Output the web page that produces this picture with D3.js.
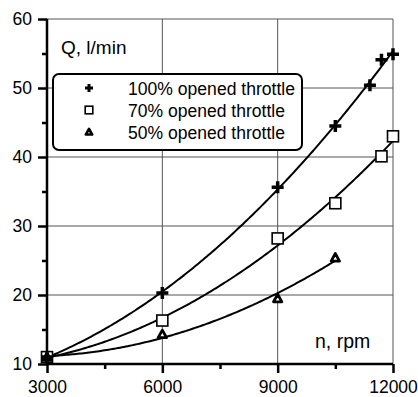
<!DOCTYPE html>
<html><head><meta charset="utf-8">
<script src="https://cdn.jsdelivr.net/npm/d3@7"></script>
<style>body{margin:0;background:#fff}svg{display:block}text{font-family:"Liberation Sans",Arial,sans-serif;fill:#000}</style>
</head><body><svg id="c" width="418" height="397"></svg>
<script>
const xTicks = [3000, 6000, 9000, 12000];
const yTicks = [10, 20, 30, 40, 50, 60];
const s100x = [3000, 6000, 9000, 10500, 11400, 11700, 12000];
const s100y = [11, 20.3, 35.6, 44.5, 50.4, 54.1, 54.9];
const s70x = [3000, 6000, 9000, 10500, 11700, 12000];
const s70y = [11, 16.3, 28.2, 33.3, 40.1, 43.0];
const s50x = [3000, 6000, 9000, 10500];
const s50y = [11, 14.3, 19.5, 25.4];
const labels = ["100% opened throttle", "70% opened throttle", "50% opened throttle"];

const svg = d3.select("#c");
const x = d3.scaleLinear().domain([3000, 12000]).range([47, 393]);
const y = d3.scaleLinear().domain([10, 60]).range([364, 19]);

// grid
const g = svg.append("g");
g.selectAll(".gx").data([6000, 9000]).join("line")
  .attr("x1", d => x(d)).attr("x2", d => x(d)).attr("y1", y(10)).attr("y2", y(60))
  .attr("stroke", "#555").attr("stroke-width", 1);
g.selectAll(".gy").data([20, 30, 40, 50]).join("line")
  .attr("y1", d => y(d)).attr("y2", d => y(d)).attr("x1", x(3000)).attr("x2", x(12000))
  .attr("stroke", "#555").attr("stroke-width", 1);
svg.append("line").attr("x1", x(3000)).attr("x2", x(12000)).attr("y1", y(60)).attr("y2", y(60)).attr("stroke", "#555");
svg.append("line").attr("x1", x(12000)).attr("x2", x(12000)).attr("y1", y(60)).attr("y2", y(10)).attr("stroke", "#555");

// axes
const xAxis = d3.axisBottom(x).tickValues(xTicks).tickSize(9).tickFormat(d3.format("d"));
const xMinor = d3.axisBottom(x).tickValues([4500, 7500, 10500]).tickSize(5).tickFormat("");
const yAxis = d3.axisLeft(y).tickValues(yTicks).tickSize(9).tickPadding(6).tickFormat(d3.format("d"));
const yMinor = d3.axisLeft(y).tickValues([15, 25, 35, 45, 55]).tickSize(5).tickFormat("");
function styleAxis(sel) {
  sel.selectAll("path").attr("stroke", "#000").attr("stroke-width", 2.5);
  sel.selectAll("line").attr("stroke", "#000").attr("stroke-width", 2.5);
  sel.selectAll("text").style("font-size", "17.5px").attr("fill", "#000");
}
svg.append("g").attr("transform", `translate(0,${y(10)})`).call(xMinor).call(styleAxis).select("path").remove();
svg.append("g").attr("transform", `translate(${x(3000)},0)`).call(yMinor).call(styleAxis).select("path").remove();
const gx = svg.append("g").attr("transform", `translate(0,${y(10)})`).call(xAxis).call(styleAxis);
gx.selectAll("path").attr("d", `M${x(3000)},0H${x(12000)}`);
gx.selectAll("text").attr("y", 29).attr("dy", null);
const gy = svg.append("g").attr("transform", `translate(${x(3000)},0)`).call(yAxis).call(styleAxis);
gy.selectAll("path").attr("d", `M0,${y(10)}V${y(60)}`);

// quadratic least-squares fits of each series
function fit(xs, ys) {
  let S = [0,0,0,0,0], T = [0,0,0];
  xs.forEach((xv, i) => { const u = xv / 1000; for (let k = 0; k < 5; k++) S[k] += Math.pow(u, k); for (let k = 0; k < 3; k++) T[k] += ys[i] * Math.pow(u, k); });
  const A = [[S[0],S[1],S[2],T[0]],[S[1],S[2],S[3],T[1]],[S[2],S[3],S[4],T[2]]];
  for (let i = 0; i < 3; i++) { for (let j = i + 1; j < 3; j++) { const f = A[j][i] / A[i][i]; for (let k = i; k < 4; k++) A[j][k] -= f * A[i][k]; } }
  const c = [0,0,0];
  for (let i = 2; i >= 0; i--) { let s = A[i][3]; for (let k = i + 1; k < 3; k++) s -= A[i][k] * c[k]; c[i] = s / A[i][i]; }
  return xv => { const u = xv / 1000; return c[0] + c[1]*u + c[2]*u*u; };
}
const line = d3.line().x(d => x(d[0])).y(d => y(d[1]));
[[s100x, s100y], [s70x, s70y], [s50x, s50y]].forEach(([xs, ys]) => {
  const f = fit(xs, ys);
  const pts = d3.range(xs[0], xs[xs.length-1] + 1, 50).map(v => [v, f(v)]);
  svg.append("path").attr("d", line(pts)).attr("fill", "none").attr("stroke", "#000").attr("stroke-width", 2);
});

// markers
function cross(sel, s, w) {
  sel.append("path").attr("d", `M${-s},0H${s}M0,${-s}V${s}`).attr("stroke", "#000").attr("stroke-width", w).attr("fill", "none");
}
function square(sel, s, w) {
  sel.append("rect").attr("x", -s).attr("y", -s).attr("width", 2*s).attr("height", 2*s).attr("fill", "#fff").attr("stroke", "#000").attr("stroke-width", w);
}
function tri(sel, s, w) {
  sel.append("path").attr("d", `M0,${-s}L${s},${s*0.8}L${-s},${s*0.8}Z`).attr("fill", "#fff").attr("stroke", "#000").attr("stroke-width", w).attr("stroke-linejoin", "round");
}
s70x.forEach((v, i) => svg.append("g").attr("transform", `translate(${x(v)},${y(s70y[i])})`).call(square, 5.5, 1.6));
s50x.forEach((v, i) => svg.append("g").attr("transform", `translate(${x(v)},${y(s50y[i])})`).call(tri, 4.2, 2.8));
s100x.forEach((v, i) => svg.append("g").attr("transform", `translate(${x(v)},${y(s100y[i])})`).call(cross, 6, 3.5));

// labels
svg.append("text").attr("x", 61).attr("y", 54).style("font-size", "19px").text("Q, l/min");
svg.append("text").attr("x", 315).attr("y", 348).style("font-size", "19.5px").text("n, rpm");

// legend
svg.append("rect").attr("x", 53).attr("y", 74).attr("width", 249).attr("height", 76).attr("rx", 6)
  .attr("fill", "#fff").attr("stroke", "#000").attr("stroke-width", 2);
const ly = [88, 110, 132];
const lw = [167, 157, 157];
const markers = [g2 => cross(g2, 4, 3), g2 => square(g2, 3.8, 1.6), g2 => tri(g2, 3.2, 2.6)];
labels.forEach((t, i) => {
  svg.append("g").attr("transform", `translate(89,${ly[i]})`).call(markers[i]);
  svg.append("text").attr("x", 128).attr("y", ly[i] + 7).style("font-size", "17.5px")
    .attr("textLength", lw[i]).attr("lengthAdjust", "spacingAndGlyphs").text(t);
});
</script></body></html>
